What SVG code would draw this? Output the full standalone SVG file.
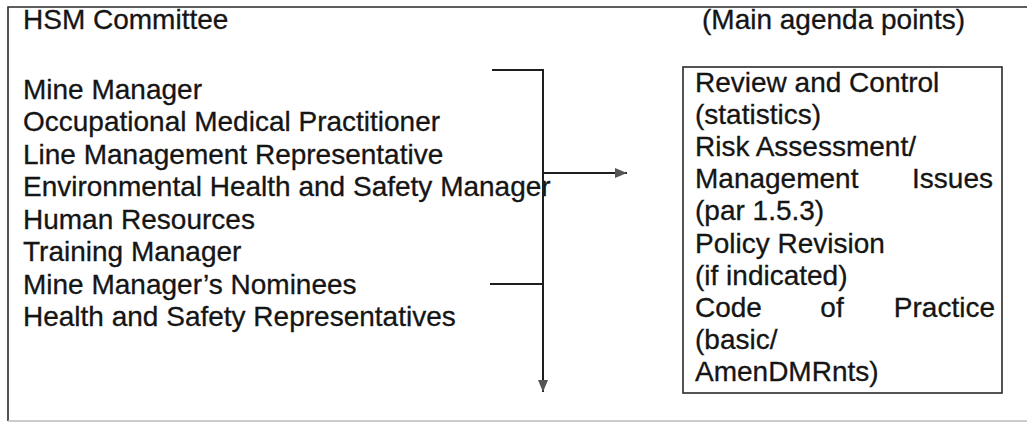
<svg xmlns="http://www.w3.org/2000/svg" width="1027" height="425" viewBox="0 0 1027 425">
<style>
text{font-family:"Liberation Sans",Arial,sans-serif;font-size:28px;fill:#151515;stroke:#151515;stroke-width:0.3}
.ln{stroke:#1e1e1e;stroke-width:2;fill:none}
.frame{stroke:#2a2a2a;stroke-width:1.6;fill:none}
</style>
<defs>
<marker id="ah" viewBox="0 0 12 10" refX="12" refY="5" markerWidth="12" markerHeight="10" markerUnits="userSpaceOnUse" orient="auto">
<path d="M0,0 L12,5 L0,10 Z" fill="#555"/>
</marker>
</defs>
<g id="frame">
<path class="frame" d="M1027,7 L8,7 L8,421"/>
<path d="M8,421 L1027,421" stroke="#bbb" stroke-width="1.5" fill="none"/>
</g>
<g id="committee">
<text x="23" y="29">HSM Committee</text>
<text x="23" y="99">Mine Manager</text>
<text x="23" y="131">Occupational Medical Practitioner</text>
<text x="23" y="164">Line Management Representative</text>
<text x="23" y="196">Environmental Health and Safety Manager</text>
<text x="23" y="229">Human Resources</text>
<text x="23" y="261">Training Manager</text>
<text x="23" y="294">Mine Manager’s Nominees</text>
<text x="23" y="326">Health and Safety Representatives</text>
</g>
<g id="agenda-title">
<text x="702" y="29">(Main agenda points)</text>
</g>
<g id="agenda">
<rect x="683" y="67" width="319" height="326" class="frame"/>
<text x="695" y="92">Review and Control</text>
<text x="695" y="124">(statistics)</text>
<text x="695" y="156">Risk Assessment/</text>
<text x="695" y="188">Management</text>
<text x="993" y="188" text-anchor="end">Issues</text>
<text x="695" y="220">(par 1.5.3)</text>
<text x="695" y="253">Policy Revision</text>
<text x="695" y="285">(if indicated)</text>
<text x="695" y="317">Code</text>
<text x="832" y="317" text-anchor="middle">of</text>
<text x="995" y="317" text-anchor="end">Practice</text>
<text x="695" y="349">(basic/</text>
<text x="695" y="381">AmenDMRnts)</text>
</g>
<g id="connectors">
<path class="ln" d="M492,70 L543,70 L543,392" marker-end="url(#ah)"/>
<path class="ln" d="M490,284 L543,284"/>
<path class="ln" d="M543,173 L627,173" marker-end="url(#ah)"/>
</g>
</svg>
